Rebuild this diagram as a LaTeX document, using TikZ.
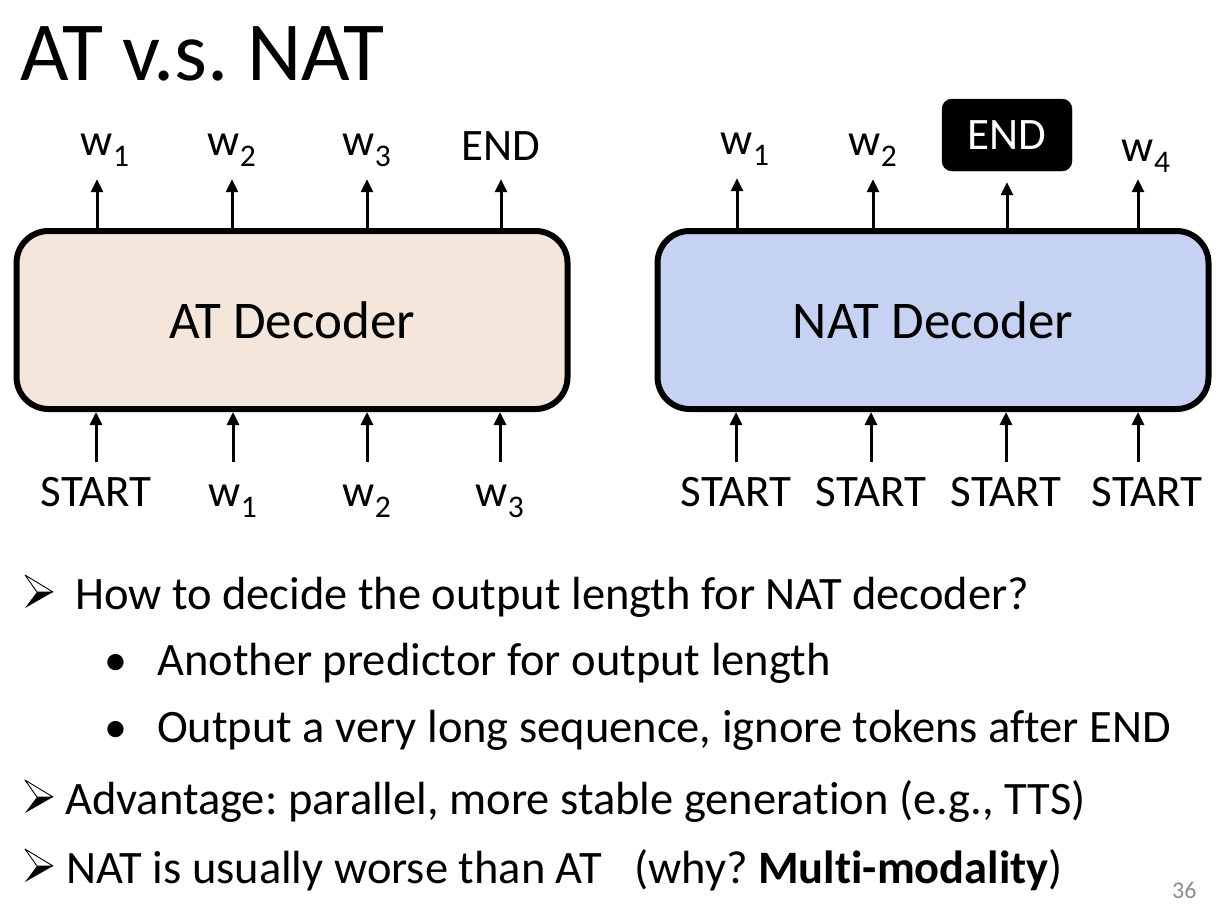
\documentclass[tikz,border=0pt]{standalone}
\usepackage{fontspec}
\setmainfont[Ligatures=NoCommon]{Carlito}
\usetikzlibrary{arrows.meta}

\definecolor{atfill}{RGB}{245,230,220}
\definecolor{natfill}{RGB}{197,210,242}
\definecolor{pagegray}{RGB}{140,140,140}

\frenchspacing
\begin{document}
\begin{tikzpicture}[x=1pt,y=-1pt,
    dec/.style = {draw, line width=6pt, rounded corners=32pt, minimum width=551pt, minimum height=178pt, font=\fontsize{53}{64}\selectfont},
    lbl/.style = {font=\fontsize{45}{54}\selectfont, inner xsep=0pt, anchor=base, text depth=0pt},
    inlbl/.style = {lbl, text height=29pt, inner ysep=15pt},
    arr/.style = {line width=3pt, -{Triangle[width=12pt,length=13pt]}},
    txt/.style = {font=\fontsize{46.5}{56}\selectfont, inner sep=0pt, anchor=base west},
    dot/.style = {font=\fontsize{46}{55}\selectfont, inner sep=0pt, anchor=base west},
    ptr/.pic = {
        \fill (13,0) -- (29,0) -- (1,16) -- cycle;
        \draw[line width=0.9pt, line join=round] (1,-17) -- (29,0) -- (13,0) -- cycle;
    }]
\useasboundingbox (0,0) rectangle (1222,905);

\node[font=\fontsize{84}{100}\selectfont, inner sep=0pt, anchor=base west] (title) at (20,80) {AT v.s. NAT};

% AT side
\node[dec, fill=atfill] (at) at (292,320) {AT Decoder};
\node[lbl, inner ysep=24pt] (ao1) at (97,155) {w\rlap{\textsubscript{1}}};
\node[lbl, inner ysep=24pt] (ao2) at (232,155) {w\textsubscript{2}};
\node[lbl, inner ysep=24pt] (ao3) at (367,155) {w\textsubscript{3}};
\node[lbl, inner ysep=19pt] (ao4) at (501,160) {END};
\node[inlbl] (ai1) at (96,506) {START};
\node[inlbl] (ai2) at (233,506) {w\textsubscript{1}};
\node[inlbl] (ai3) at (367,506) {w\textsubscript{2}};
\node[inlbl] (ai4) at (500,506) {w\textsubscript{3}};
\foreach \i in {1,...,4} {
    \draw[arr] (at.north -| ao\i) -- (ao\i);
    \draw[arr] (ai\i) -- (at.south -| ai\i);
}

% NAT side
\node[dec, fill=natfill] (nat) at (933,320) {NAT Decoder};
\node[lbl, inner ysep=24pt] (no1) at (737,154) {w\rlap{\textsubscript{1}}};
\node[lbl, inner ysep=24pt] (no2) at (873,155) {w\textsubscript{2}};
\node[draw, fill=black, rounded corners=10pt, minimum width=130pt, minimum height=72pt, font=\fontsize{45}{54}\selectfont, text=white] (no3) at (1007,135) {END};
\node[lbl, inner ysep=18pt] (no4) at (1138,161) {w\rlap{\textsubscript{4}}};
\foreach \x [count=\i] in {736,871,1006,1147} {
    \node[inlbl] (ni\i) at (\x,506) {START};
}
\foreach \i in {1,2,4} {
    \draw[arr] (nat.north -| no\i) -- (no\i);
}
\draw[arr, shorten >=11pt] (nat.north -| no3) -- (no3);
\draw[arr] (ni1) -- (nat.south -| ni1);
\draw[arr] (ni2) -- (nat.south -| ni2);
\draw[arr] (ni3) -- (nat.south -| ni3);
\draw[arr] (ni4.north -| no4) -- (nat.south -| no4);

% bullets
\pic at (24,592) {ptr};
\node[txt] (q) at (75,609) {How to decide the output length for NAT decoder?};
\node[dot] (d1) at (104,675) {•};
\node[txt] (a1) at (157,675) {Another predictor for output length};
\node[dot] (d2) at (104,742) {•};
\node[txt] (a2) at (157,742) {Output a very long sequence, ignore tokens after END};
\pic at (24,797) {ptr};
\node[txt] (adv) at (65,814) {Advantage: parallel, more stable generation (e.g., TTS)};
\pic at (24,866) {ptr};
\node[txt] (worse) at (66,883) {NAT is usually worse than AT};
\node[txt] (why) at (634,883) {(why? \textbf{Multi-modality})};

\node[font=\fontsize{24}{29}\selectfont, text=pagegray, inner sep=0pt, anchor=base west] (page) at (1172,898) {36};
\end{tikzpicture}
\end{document}
